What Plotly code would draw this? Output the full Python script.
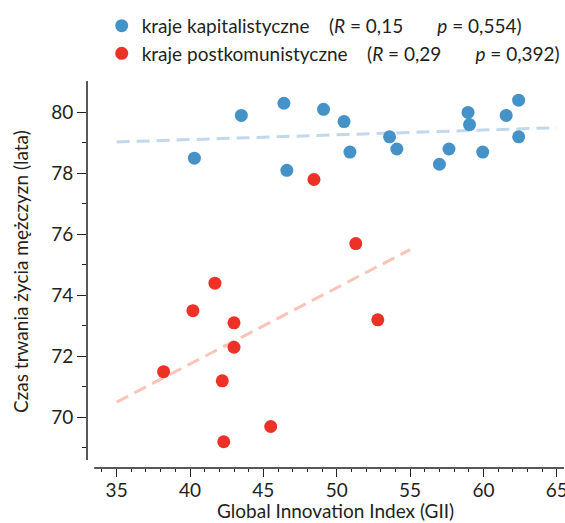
import plotly.graph_objects as go

# --- data ---
cap_gii = [40.3, 43.5, 46.4, 46.6, 49.1, 50.5, 50.9, 53.6, 54.1, 57.0, 57.65,
           58.95, 59.05, 59.95, 61.55, 62.4, 62.4]
cap_life = [78.5, 79.9, 80.3, 78.1, 80.1, 79.7, 78.7, 79.2, 78.8, 78.3, 78.8,
            80.0, 79.6, 78.7, 79.9, 80.4, 79.2]

post_gii = [48.45, 51.3, 41.7, 40.2, 43.0, 52.8, 43.0, 38.2, 42.2, 45.5, 42.3]
post_life = [77.8, 75.7, 74.4, 73.5, 73.1, 73.2, 72.3, 71.5, 71.2, 69.7, 69.2]

cap_trend_x = [35, 65]
cap_trend_y = [79.03, 79.5]
post_trend_x = [35, 55]
post_trend_y = [70.5, 75.5]

x_ticks = [35, 40, 45, 50, 55, 60, 65]
x_minor = list(range(34, 66))
y_ticks = [70, 72, 74, 76, 78, 80]
y_minor = [69, 71, 73, 75, 77, 79]

x_title = "Global Innovation Index (GII)"
y_title = "Czas trwania życia mężczyzn (lata)"

NB = "\u00a0"
cap_label = "kraje kapitalistyczne" + NB * 4 + "(<i>R</i>" + NB + "=" + NB + "0,15" + NB * 7 + "<i>p</i>" + NB + "=" + NB + "0,554)"
post_label = "kraje postkomunistyczne" + NB * 4 + "(<i>R</i>" + NB + "=" + NB + "0,29" + NB * 7 + "<i>p</i>" + NB + "=" + NB + "0,392)"

BLUE = "#4592c8"
RED = "#ec3127"
BLUE_L = "#c2d8ec"
RED_L = "#fcc3b9"
INK = "#231f20"
FONT = "Lato"

X_RANGE = [32.98, 65.49]
Y_RANGE = [68.34, 81.03]
X_LINE = [33.47, 65.49]
Y_LINE = [68.6, 81.03]

fig = go.Figure()
fig.add_trace(go.Scatter(x=cap_trend_x, y=cap_trend_y, mode="lines",
                         line=dict(color=BLUE_L, width=3, dash="13px,7px"),
                         showlegend=False, hoverinfo="skip"))
fig.add_trace(go.Scatter(x=post_trend_x, y=post_trend_y, mode="lines",
                         line=dict(color=RED_L, width=3, dash="13px,7px"),
                         showlegend=False, hoverinfo="skip"))
fig.add_trace(go.Scatter(x=cap_gii, y=cap_life, mode="markers", name=cap_label,
                         marker=dict(color=BLUE, size=13, line=dict(width=0))))
fig.add_trace(go.Scatter(x=post_gii, y=post_life, mode="markers", name=post_label,
                         marker=dict(color=RED, size=13, line=dict(width=0))))

# offset axis spines
fig.add_shape(type="line", xref="x", yref="paper", x0=X_LINE[0], x1=X_LINE[1],
              y0=0, y1=0, line=dict(color=INK, width=1.5))
fig.add_shape(type="line", xref="paper", yref="y", x0=0, x1=0,
              y0=Y_LINE[0], y1=Y_LINE[1], line=dict(color=INK, width=1.5))

# axis titles
fig.add_annotation(text=x_title, xref="paper", yref="paper", x=0.522, y=-0.111,
                   xanchor="center", yanchor="middle", showarrow=False,
                   font=dict(family=FONT, size=19, color=INK))
fig.add_annotation(text=y_title, xref="paper", yref="paper", x=-0.1405, y=0.509,
                   xanchor="center", yanchor="middle", showarrow=False, textangle=-90,
                   font=dict(family=FONT, size=19, color=INK))

fig.update_layout(
    width=565, height=523,
    margin=dict(l=87, r=1, t=81, b=55, autoexpand=False),
    paper_bgcolor="white", plot_bgcolor="white",
    font=dict(family=FONT, size=18, color=INK),
    legend=dict(x=0.18, y=0.987, xref="container", yref="container",
                xanchor="left", yanchor="top",
                font=dict(family=FONT, size=19, color=INK),
                bgcolor="rgba(0,0,0,0)", traceorder="normal"),
    xaxis=dict(range=X_RANGE, automargin=False, ticklabeloverflow="allow",
               ticklabelstandoff=-3,
               tickvals=x_ticks, ticks="outside", ticklen=8, tickwidth=1.3,
               tickcolor=INK, showline=False,
               showgrid=False, zeroline=False,
               tickfont=dict(size=19, color=INK),
               minor=dict(tickvals=x_minor, ticks="outside", ticklen=3,
                          tickwidth=1.2, tickcolor=INK, showgrid=False)),
    yaxis=dict(range=Y_RANGE, automargin=False, ticklabeloverflow="allow",
               tickvals=y_ticks, ticks="outside", ticklen=9, tickwidth=1.3,
               tickcolor=INK, showline=False,
               showgrid=False, zeroline=False,
               tickfont=dict(size=19, color=INK),
               minor=dict(tickvals=y_minor, ticks="outside", ticklen=4,
                          tickwidth=1.2, tickcolor=INK, showgrid=False)),
)

fig.write_html("out.html")
